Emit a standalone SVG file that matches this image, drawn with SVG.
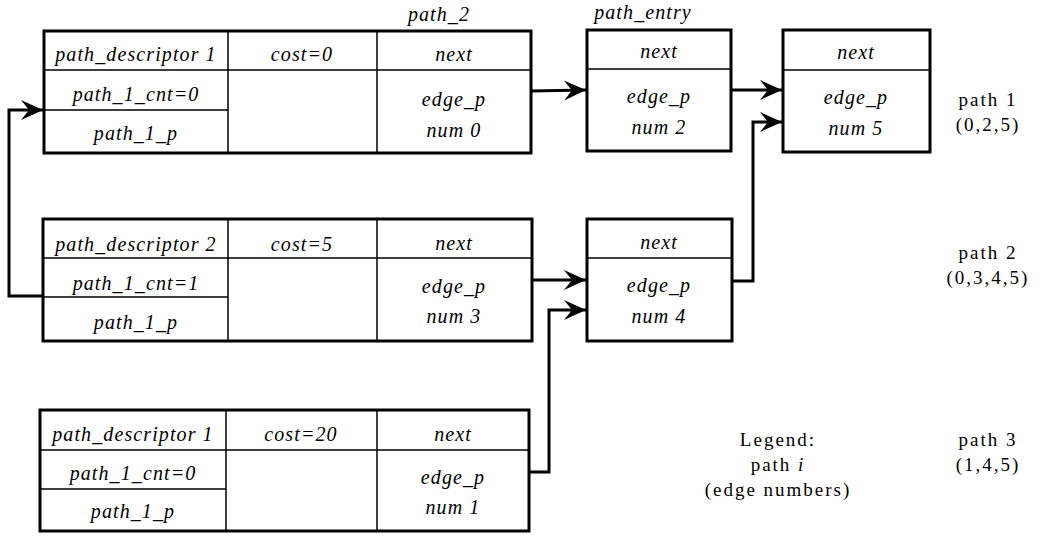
<svg xmlns="http://www.w3.org/2000/svg" width="1050" height="536" viewBox="0 0 1050 536">
  <style>
    .frame { fill: #ffffff; stroke: #000000; stroke-width: 3; }
    .grid { fill: none; stroke: #000000; stroke-width: 1.5; }
    .wire { fill: none; stroke: #000000; stroke-width: 3; stroke-linejoin: miter; }
    .fld { font-family: "Liberation Serif", "Times New Roman", serif; font-style: italic; font-size: 20px; letter-spacing: 1.1px; text-anchor: middle; fill: #000000; }
    .note { font-family: "Liberation Serif", "Times New Roman", serif; font-size: 19px; letter-spacing: 2px; text-anchor: middle; fill: #000000; }
  </style>
  <defs>
    <marker id="barb" viewBox="-23 -11 23 22" refX="0" refY="0" markerWidth="23" markerHeight="22" markerUnits="userSpaceOnUse" orient="auto">
      <path d="M0,0 L-22,-10 L-14,0 L-22,10 Z" fill="#000000"/>
    </marker>
  </defs>

  <!-- connectors -->
  <g id="connectors">
    <polyline class="wire" points="531,91 586,90" marker-end="url(#barb)"/>
    <polyline class="wire" points="731,90 782,90" marker-end="url(#barb)"/>
    <polyline class="wire" points="732,281 753,281 753,122 782,122" marker-end="url(#barb)"/>
    <polyline class="wire" points="43,296 9,296 9,110 43,110" marker-end="url(#barb)"/>
    <polyline class="wire" points="532,280 586,280" marker-end="url(#barb)"/>
    <polyline class="wire" points="529,472 549,472 549,310 586,310" marker-end="url(#barb)"/>
  </g>

  <!-- path descriptor 1 (cost 0) -->
  <g id="desc1">
    <rect class="frame" x="44" y="31" width="487" height="122"/>
    <path class="grid" d="M44,70 H531 M44,110 H228 M228,31 V153 M377,31 V153"/>
    <text class="fld" x="136" y="61">path_descriptor 1</text>
    <text class="fld" x="302" y="61">cost=0</text>
    <text class="fld" x="454" y="61">next</text>
    <text class="fld" x="136" y="101">path_1_cnt=0</text>
    <text class="fld" x="136" y="140">path_1_p</text>
    <text class="fld" x="454" y="106">edge_p</text>
    <text class="fld" x="454" y="137">num 0</text>
  </g>
  <text class="fld" x="439" y="21">path_2</text>

  <!-- entry for edge 2 -->
  <g id="entry2">
    <rect class="frame" x="587" y="30" width="144" height="121"/>
    <path class="grid" d="M587,69 H731"/>
    <text class="fld" x="659" y="58">next</text>
    <text class="fld" x="659" y="103">edge_p</text>
    <text class="fld" x="659" y="134">num 2</text>
  </g>
  <text class="fld" x="643" y="19">path_entry</text>

  <!-- entry for edge 5 -->
  <g id="entry5">
    <rect class="frame" x="783" y="30" width="147" height="122"/>
    <path class="grid" d="M783,70 H930"/>
    <text class="fld" x="856" y="59">next</text>
    <text class="fld" x="856" y="104">edge_p</text>
    <text class="fld" x="856" y="135">num 5</text>
  </g>

  <!-- path descriptor 2 (cost 5) -->
  <g id="desc2">
    <rect class="frame" x="43" y="219" width="489" height="122"/>
    <path class="grid" d="M43,258 H532 M43,297 H228 M228,219 V341 M377,219 V341"/>
    <text class="fld" x="136" y="251">path_descriptor 2</text>
    <text class="fld" x="302" y="251">cost=5</text>
    <text class="fld" x="454" y="250">next</text>
    <text class="fld" x="136" y="290">path_1_cnt=1</text>
    <text class="fld" x="136" y="329">path_1_p</text>
    <text class="fld" x="454" y="293">edge_p</text>
    <text class="fld" x="454" y="323">num 3</text>
  </g>

  <!-- entry for edge 4 -->
  <g id="entry4">
    <rect class="frame" x="587" y="219" width="145" height="122"/>
    <path class="grid" d="M587,258 H732"/>
    <text class="fld" x="659" y="249">next</text>
    <text class="fld" x="659" y="292">edge_p</text>
    <text class="fld" x="659" y="323">num 4</text>
  </g>

  <!-- path descriptor 3 (cost 20) -->
  <g id="desc3">
    <rect class="frame" x="40" y="410" width="489" height="121"/>
    <path class="grid" d="M40,450 H529 M40,489 H226 M226,410 V531 M377,410 V531"/>
    <text class="fld" x="133" y="441">path_descriptor 1</text>
    <text class="fld" x="301" y="441">cost=20</text>
    <text class="fld" x="453" y="441">next</text>
    <text class="fld" x="133" y="480">path_1_cnt=0</text>
    <text class="fld" x="133" y="518">path_1_p</text>
    <text class="fld" x="453" y="484">edge_p</text>
    <text class="fld" x="453" y="514">num 1</text>
  </g>

  <!-- path listings and legend -->
  <g id="paths">
    <text class="note" x="988" y="106">path 1</text>
    <text class="note" x="988" y="131">(0,2,5)</text>
    <text class="note" x="988" y="259">path 2</text>
    <text class="note" x="988" y="284">(0,3,4,5)</text>
    <text class="note" x="988" y="446">path 3</text>
    <text class="note" x="988" y="471">(1,4,5)</text>
  </g>
  <g id="legend">
    <text class="note" x="778" y="446">Legend:</text>
    <text class="note" x="778" y="471">path <tspan font-style="italic">i</tspan></text>
    <text class="note" x="778" y="496">(edge numbers)</text>
  </g>
</svg>
